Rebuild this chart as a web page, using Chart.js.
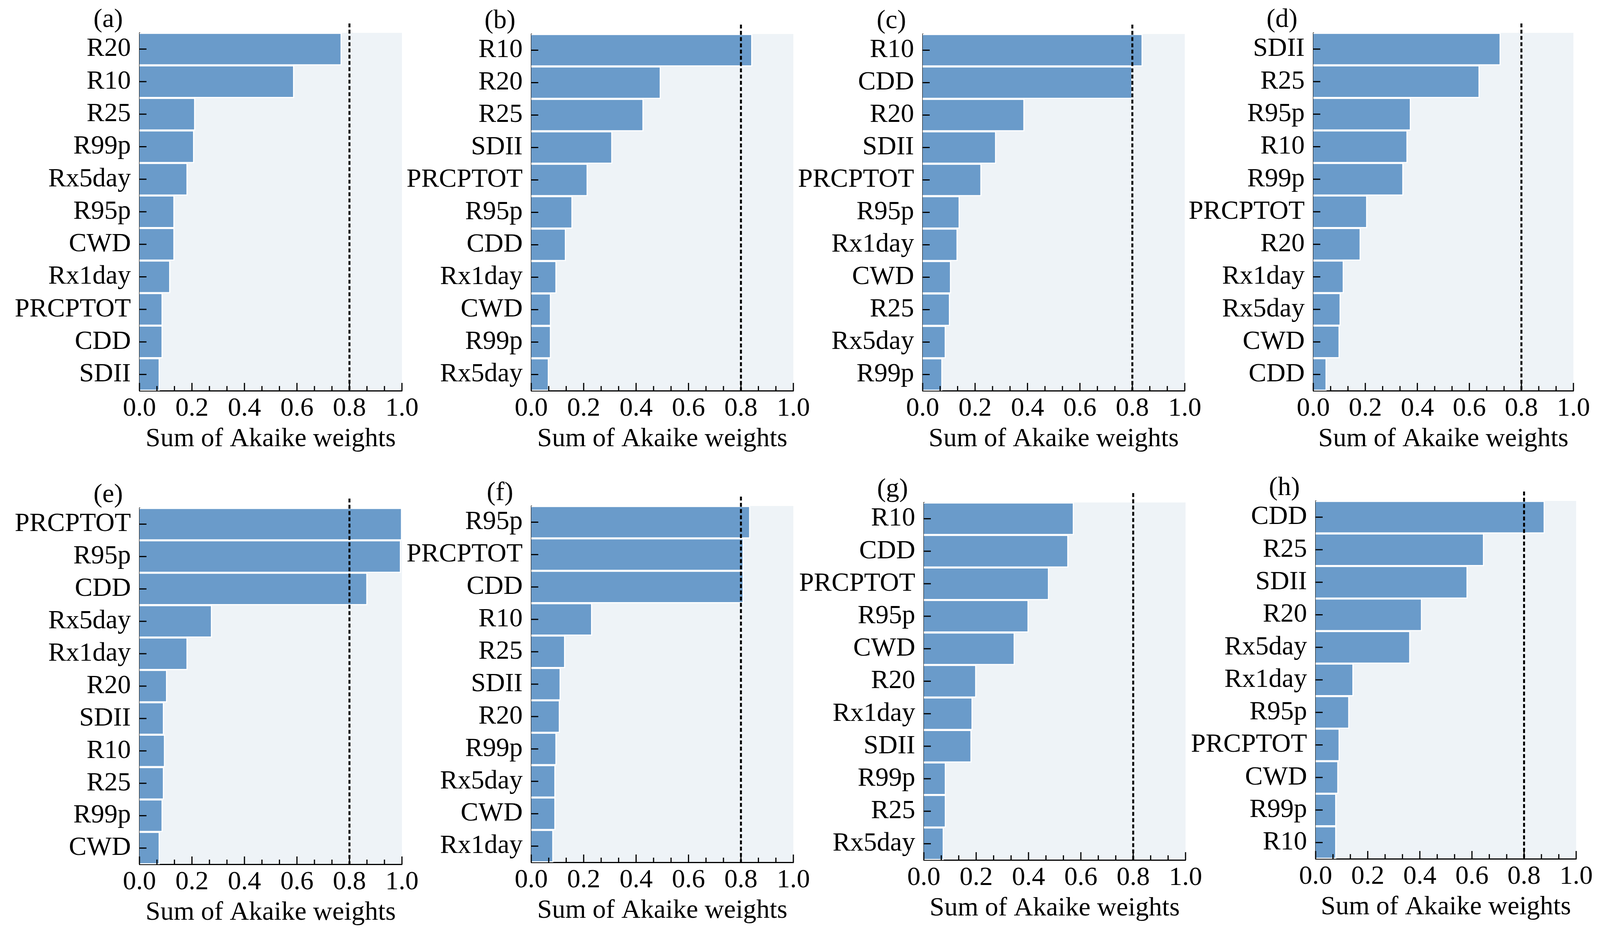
<!DOCTYPE html>
<html>
<head>
<meta charset="utf-8">
<script src="https://cdn.jsdelivr.net/npm/chart.js@4.4.0/dist/chart.umd.min.js"></script>
<style>
  body { margin: 0; background: #fff; }
  #wrap { position: relative; width: 4108px; height: 2393px; overflow: hidden; background: #fff; }
  #wrap canvas { position: absolute; }
</style>
</head>
<body>
<div id="wrap"></div>
<script>
// values, top bar first
const labelsA = ['R20', 'R10', 'R25', 'R99p', 'Rx5day', 'R95p', 'CWD', 'Rx1day', 'PRCPTOT', 'CDD', 'SDII'];
const valuesA = [0.770, 0.589, 0.212, 0.208, 0.183, 0.133, 0.133, 0.117, 0.088, 0.088, 0.077];

const labelsB = ['R10', 'R20', 'R25', 'SDII', 'PRCPTOT', 'R95p', 'CDD', 'Rx1day', 'CWD', 'R99p', 'Rx5day'];
const valuesB = [0.843, 0.494, 0.428, 0.309, 0.215, 0.157, 0.132, 0.096, 0.075, 0.075, 0.067];

const labelsC = ['R10', 'CDD', 'R20', 'SDII', 'PRCPTOT', 'R95p', 'Rx1day', 'CWD', 'R25', 'Rx5day', 'R99p'];
const valuesC = [0.839, 0.800, 0.388, 0.280, 0.224, 0.141, 0.133, 0.108, 0.104, 0.088, 0.075];

const labelsD = ['SDII', 'R25', 'R95p', 'R10', 'R99p', 'PRCPTOT', 'R20', 'Rx1day', 'Rx5day', 'CWD', 'CDD'];
const valuesD = [0.720, 0.639, 0.375, 0.362, 0.346, 0.207, 0.182, 0.117, 0.105, 0.101, 0.051];

const labelsE = ['PRCPTOT', 'R95p', 'CDD', 'Rx5day', 'Rx1day', 'R20', 'SDII', 'R10', 'R25', 'R99p', 'CWD'];
const valuesE = [1.000, 0.996, 0.868, 0.276, 0.183, 0.105, 0.093, 0.097, 0.093, 0.088, 0.077];

const labelsF = ['R95p', 'PRCPTOT', 'CDD', 'R10', 'R25', 'SDII', 'R20', 'R99p', 'Rx5day', 'CWD', 'Rx1day'];
const valuesF = [0.835, 0.810, 0.810, 0.232, 0.129, 0.112, 0.109, 0.096, 0.092, 0.092, 0.084];

const labelsG = ['R10', 'CDD', 'PRCPTOT', 'R95p', 'CWD', 'R20', 'Rx1day', 'SDII', 'R99p', 'R25', 'Rx5day'];
const valuesG = [0.573, 0.552, 0.478, 0.400, 0.347, 0.200, 0.186, 0.182, 0.084, 0.084, 0.076];

const labelsH = ['CDD', 'R25', 'SDII', 'R20', 'Rx5day', 'Rx1day', 'R95p', 'PRCPTOT', 'CWD', 'R99p', 'R10'];
const valuesH = [0.879, 0.646, 0.583, 0.408, 0.363, 0.145, 0.129, 0.092, 0.087, 0.079, 0.079];

const tags = ['(a)', '(b)', '(c)', '(d)', '(e)', '(f)', '(g)', '(h)'];
const THRESHOLD = 0.8;
const AXIS_TITLE = 'Sum of Akaike weights';

const panels = [
  [labelsA, valuesA], [labelsB, valuesB], [labelsC, valuesC], [labelsD, valuesD],
  [labelsE, valuesE], [labelsF, valuesF], [labelsG, valuesG], [labelsH, valuesH]
];

// plot area of each panel on the page: left, top, right, bottom
const boxes = [
  [357, 84, 1029, 1000], [1360, 87, 2031, 1000], [2362, 87, 3033, 1000], [3362, 84, 4028, 1000],
  [357, 1300, 1029, 2212], [1360, 1295, 2031, 2207], [2365, 1286, 3035, 2201], [3368, 1282, 4035, 2198]
];

const Y_W = 350, X_H = 158, PAD_T = 84, PAD_R = 60;
const FONT = '"Liberation Serif", "Times New Roman", serif';
const FS = 68;
const barColor = '#6a9bca';
const plotBg = '#eef3f7';

Chart.defaults.font.family = FONT;
Chart.defaults.color = '#000';

function line(ctx, x1, y1, x2, y2) {
  ctx.beginPath();
  ctx.moveTo(x1, y1);
  ctx.lineTo(x2, y2);
  ctx.stroke();
}

const panelDecor = {
  id: 'panelDecor',
  beforeDraw(chart) {
    const {ctx, chartArea: a} = chart;
    ctx.save();
    ctx.fillStyle = plotBg;
    ctx.fillRect(a.left, a.top, a.right - a.left, a.bottom - a.top);
    ctx.restore();
  },
  afterDatasetsDraw(chart, args, opts) {
    const {ctx, chartArea: a, scales: {x, y}} = chart;
    ctx.save();
    ctx.strokeStyle = '#000';
    ctx.lineWidth = 3;
    // inward tick marks on the category axis
    y.ticks.forEach((t, i) => {
      const py = y.getPixelForTick(i);
      line(ctx, a.left, py, a.left + 18, py);
    });
    // inward major / minor ticks on the value axis
    for (let k = 0; k <= 15; k++) {
      const px = x.getPixelForValue(k / 15);
      line(ctx, px, a.bottom, px, a.bottom - (k % 3 === 0 ? 20 : 12));
    }
    // 0.8 threshold
    ctx.setLineDash([10, 6]);
    ctx.lineWidth = 5;
    const tx = x.getPixelForValue(THRESHOLD);
    line(ctx, tx, a.top - 24, tx, a.bottom);
    ctx.setLineDash([]);
    // panel tag
    ctx.fillStyle = '#000';
    ctx.font = FS + 'px ' + FONT;
    ctx.textAlign = 'center';
    ctx.textBaseline = 'middle';
    ctx.fillText(opts.tag, a.left - 80, a.top - 33);
    ctx.restore();
  }
};

const wrap = document.getElementById('wrap');

panels.forEach(([labels, values], i) => {
  const [l, t, r, b] = boxes[i];
  const canvas = document.createElement('canvas');
  canvas.width = Y_W + (r - l) + PAD_R;
  canvas.height = PAD_T + (b - t) + X_H;
  canvas.style.left = (l - Y_W) + 'px';
  canvas.style.top = (t - PAD_T) + 'px';
  wrap.appendChild(canvas);

  new Chart(canvas.getContext('2d'), {
    type: 'bar',
    data: {
      labels: labels,
      datasets: [{
        data: values,
        backgroundColor: barColor,
        borderColor: '#ffffff',
        borderWidth: 3,
        borderSkipped: 'start',
        barPercentage: 1,
        categoryPercentage: 1
      }]
    },
    plugins: [panelDecor],
    options: {
      indexAxis: 'y',
      responsive: false,
      animation: false,
      devicePixelRatio: 1,
      layout: { padding: { top: PAD_T, right: PAD_R, left: 0, bottom: 0 } },
      plugins: {
        legend: { display: false },
        tooltip: { enabled: false },
        panelDecor: { tag: tags[i] }
      },
      scales: {
        x: {
          type: 'linear',
          min: 0,
          max: 1,
          afterFit: (scale) => { scale.height = X_H; },
          ticks: {
            stepSize: 0.2,
            padding: 12,
            maxRotation: 0,
            font: { size: FS, lineHeight: 1 },
            callback: (v) => v.toFixed(1)
          },
          grid: { display: false, drawTicks: false },
          border: { display: true, color: '#000', width: 3 },
          title: {
            display: true,
            text: AXIS_TITLE,
            font: { size: FS, lineHeight: 1 },
            padding: 0
          }
        },
        y: {
          afterFit: (scale) => { scale.width = Y_W; },
          ticks: {
            padding: 22,
            font: { size: FS, lineHeight: 1 }
          },
          grid: { display: false, drawTicks: false },
          border: { display: true, color: '#000', width: 3 }
        }
      }
    }
  });
});
</script>
</body>
</html>
